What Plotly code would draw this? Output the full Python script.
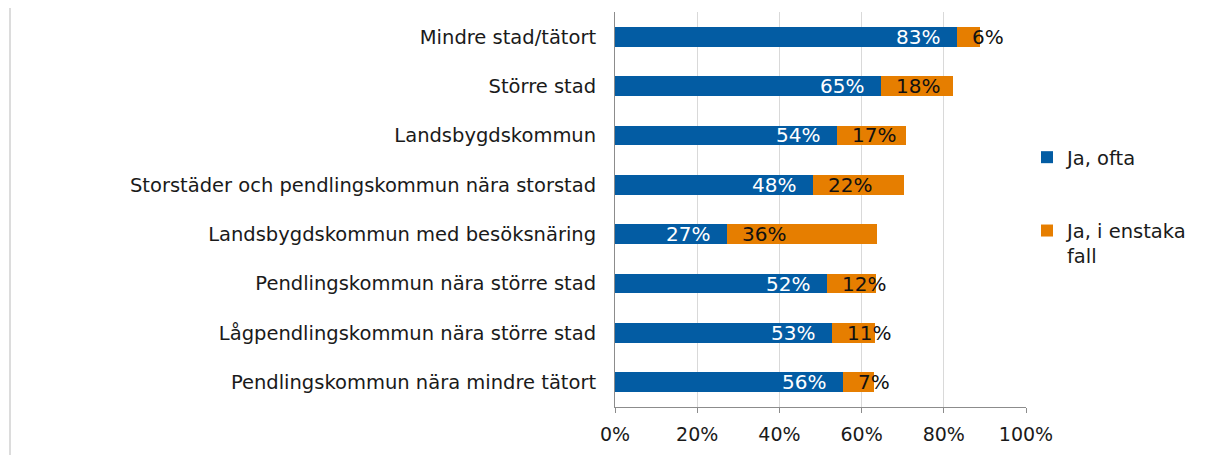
import plotly.graph_objects as go

categories = [
    "Mindre stad/tätort",
    "Större stad",
    "Landsbygdskommun",
    "Storstäder och pendlingskommun nära storstad",
    "Landsbygdskommun med besöksnäring",
    "Pendlingskommun nära större stad",
    "Lågpendlingskommun nära större stad",
    "Pendlingskommun nära mindre tätort",
]
ja_ofta = [83.3, 64.8, 54.1, 48.2, 27.3, 51.6, 52.7, 55.5]
ja_enstaka = [5.6, 17.5, 16.8, 22.2, 36.4, 12.0, 10.5, 7.5]
labels_ofta = ["83%", "65%", "54%", "48%", "27%", "52%", "53%", "56%"]
labels_enstaka = ["6%", "18%", "17%", "22%", "36%", "12%", "11%", "7%"]
x_ticks = [0, 20, 40, 60, 80, 100]
x_ticklabels = ["0%", "20%", "40%", "60%", "80%", "100%"]

BLUE = "#035CA3"
ORANGE = "#E67E00"
FONT = "DejaVu Sans"
OFF = 8  # default page body margin
W, H = 1209 - OFF, 455 - OFF
L, R, T, B = 615 - OFF, 183, 12 - OFF, 48

fig = go.Figure()
fig.add_trace(go.Bar(
    y=categories, x=ja_ofta, orientation="h", name="Ja, ofta",
    marker=dict(color=BLUE, line=dict(width=0)), width=0.4,
    legendgroup="a", hoverinfo="x+y",
))
fig.add_trace(go.Bar(
    y=categories, x=ja_enstaka, orientation="h", name="Ja, i enstaka<br>fall",
    marker=dict(color=ORANGE, line=dict(width=0)), width=0.4,
    legendgroup="b", hoverinfo="x+y",
))

for cat, a, la, lb in zip(categories, ja_ofta, labels_ofta, labels_enstaka):
    fig.add_annotation(x=a, y=cat, text=la, showarrow=False, xanchor="right",
                       xshift=-15, font=dict(family=FONT, size=20, color="white"))
    fig.add_annotation(x=a, y=cat, text=lb, showarrow=False, xanchor="left",
                       xshift=13, font=dict(family=FONT, size=20, color="#111111"))

plot_w = W - L - R
plot_h = H - T - B
lx = (10 - OFF - L) / plot_w
fig.add_shape(type="line", xref="paper", yref="paper",
              x0=lx, x1=lx,
              y0=(H - B) / plot_h, y1=(H - B - H) / plot_h,
              line=dict(color="#d0d0d0", width=1.5))

fig.update_layout(
    barmode="stack",
    width=W, height=H,
    margin=dict(l=L, r=R, t=T, b=B, pad=0),
    paper_bgcolor="white", plot_bgcolor="white",
    font=dict(family=FONT, size=19.5, color="#1a1a1a"),
    showlegend=True,
    legend=dict(x=(1027 - OFF - L) / plot_w, xanchor="left",
                y=(H - B - (138 - OFF)) / plot_h,
                yanchor="top", traceorder="grouped", tracegroupgap=45,
                valign="top", font=dict(family=FONT, size=19.5, color="#1a1a1a"),
                bgcolor="rgba(0,0,0,0)"),
    xaxis=dict(range=[0, 100], tickvals=x_ticks, ticktext=x_ticklabels,
               showgrid=True, gridcolor="#d9d9d9", gridwidth=1,
               showline=True, linecolor="#8c8c8c", linewidth=1,
               ticks="outside", ticklen=5, tickcolor="#8c8c8c",
               ticklabelstandoff=5,
               tickfont=dict(family=FONT, size=19, color="#1a1a1a"),
               zeroline=False, fixedrange=True),
    yaxis=dict(autorange="reversed", showline=True, linecolor="#8c8c8c",
               linewidth=1, ticks="", ticklabelstandoff=14,
               tickfont=dict(family=FONT, size=19.5, color="#1a1a1a"),
               fixedrange=True),
)

fig.write_html("out.html")
